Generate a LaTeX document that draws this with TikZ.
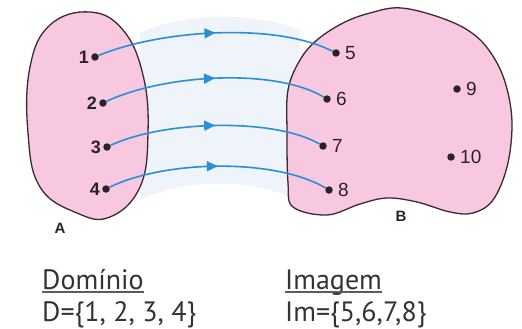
\documentclass[tikz,border=0pt]{standalone}
\usepackage{fontspec}
\setmainfont{Liberation Sans}
\newfontfamily\capfont{PT Sans}
\usetikzlibrary{decorations.markings,arrows.meta}
\definecolor{blobpink}{HTML}{F7C8E0}
\definecolor{blobline}{HTML}{3A2A32}
\definecolor{arrblue}{HTML}{2A8FD4}
\definecolor{bandblue}{HTML}{EEF4FA}
\definecolor{txt}{HTML}{2A2228}
\definecolor{captxt}{HTML}{333333}
\begin{document}
\begin{tikzpicture}[x=1pt,y=-1pt,
  blob/.style={fill=blobpink,draw=blobline,line width=1.3pt},
  dot/.style={circle,fill=txt,inner sep=0pt,minimum size=7.5pt},
  numl/.style={font=\fontsize{18}{18}\selectfont\bfseries,text=txt,inner sep=0pt,anchor=east},
  numr/.style={font=\fontsize{19}{19}\selectfont,text=txt,inner sep=0pt,anchor=west},
  setname/.style={font=\fontsize{15}{15}\selectfont\bfseries,text=txt,inner sep=0pt},
  captext/.style={font=\capfont\fontsize{28}{28}\selectfont,text=captxt,inner sep=0pt,anchor=base west},
  uline/.style={draw=captxt!80,line width=1.3pt},
  maparrow/.style={draw=arrblue,line width=1.6pt,postaction={decorate},
    decoration={markings,mark=at position 0.5 with {\arrow[arrblue]{Triangle[length=11pt,width=10pt]}}}}
]
\useasboundingbox (0,0) rectangle (522,329);
\fill[white] (0,0) rectangle (522,329);
% band between the sets
\fill[bandblue] (140,33) .. controls (185,12) and (255,12) .. (300,30)
  -- (296,200) .. controls (255,178) and (185,178) .. (140,200) -- cycle;
% set A
\draw[blob] plot[smooth cycle,tension=0.7] coordinates {
  (90,12) (123,30) (143,75) (148,133) (140,187) (110,217) (77,213)
  (40,187) (28,133) (30,67) (50,25)};
% set B
\draw[blob] plot[smooth cycle,tension=0.6] coordinates {
  (300,60) (317,40) (343,23) (370,13) (402,8) (447,20) (477,37) (497,63)
  (508,93) (512,127) (507,167) (493,200) (473,213) (450,212) (417,202)
  (387,198) (360,204) (327,215) (293,207) (288,183) (287,133) (288,90)};
% points
\node[dot] (d1) at (95,57) {};
\node[dot] (d2) at (103,103) {};
\node[dot] (d3) at (107,147) {};
\node[dot] (d4) at (106,189) {};
\node[dot] (d5) at (336,53) {};
\node[dot] (d6) at (327,99) {};
\node[dot] (d7) at (323,146) {};
\node[dot] (d8) at (329,190) {};
\node[dot] (d9) at (457,89) {};
\node[dot] (d10) at (451,157) {};
% labels
\node[numl] (l1) at ([xshift=-6pt]d1.center) {1};
\node[numl] (l2) at ([xshift=-6pt]d2.center) {2};
\node[numl] (l3) at ([xshift=-6pt]d3.center) {3};
\node[numl] (l4) at ([xshift=-6pt]d4.center) {4};
\node[numr] (l5) at ([xshift=9pt]d5.center) {5};
\node[numr] (l6) at ([xshift=9pt]d6.center) {6};
\node[numr] (l7) at ([xshift=9pt]d7.center) {7};
\node[numr] (l8) at ([xshift=9pt]d8.center) {8};
\node[numr] (l9) at ([xshift=9pt]d9.center) {9};
\node[numr] (l10) at ([xshift=9pt]d10.center) {10};
\node[setname] (A) at (60,228) {A};
\node[setname] (B) at (401,216) {B};
% mapping arrows
\draw[maparrow] (d1) .. controls (160,30) and (275,22) .. (d5);
\draw[maparrow] (d2) .. controls (165,74) and (275,68) .. (d6);
\draw[maparrow] (d3) .. controls (165,120) and (275,118) .. (d7);
\draw[maparrow] (d4) .. controls (165,160) and (275,158) .. (d8);
% captions
\node[captext] (dom) at (42,289) {Domínio};
\node[captext] (dset) at (42,321) {D=\{1, 2, 3, 4\}};
\node[captext] (img) at (285,289) {Imagem};
\node[captext] (iset) at (285,321) {Im=\{5,6,7,8\}};
\draw[uline] ([yshift=-3pt]dom.base west) -- ([yshift=-3pt]dom.base east);
\draw[uline] ([yshift=-3pt]img.base west) -- ([yshift=-3pt]img.base east);
\end{tikzpicture}
\end{document}
